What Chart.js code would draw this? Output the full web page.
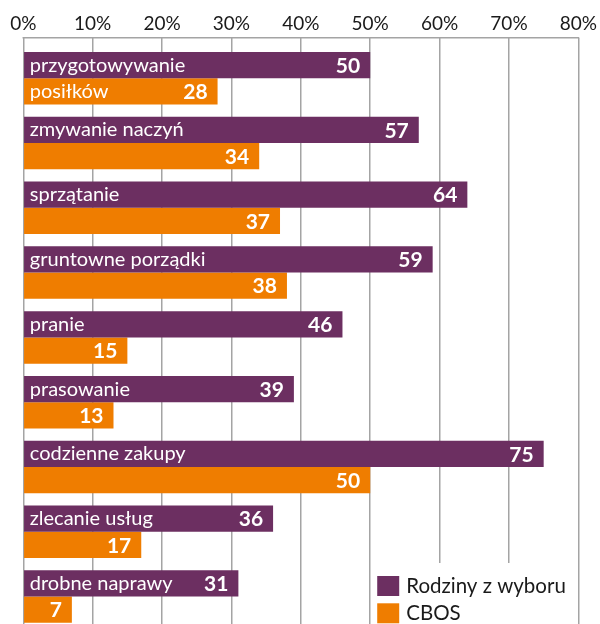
<!DOCTYPE html>
<html>
<head>
<meta charset="utf-8">
<script src="https://cdn.jsdelivr.net/npm/chart.js@4.4.1/dist/chart.umd.min.js"></script>
<style>
html,body{margin:0;padding:0;background:#fff;overflow:hidden;width:600px;height:624px;}
canvas{display:block;}
</style>
</head>
<body>
<canvas id="c" width="600" height="629"></canvas>
<script>
const categories = [
  ["przygotowywanie", "posiłków"],
  ["zmywanie naczyń"],
  ["sprzątanie"],
  ["gruntowne porządki"],
  ["pranie"],
  ["prasowanie"],
  ["codzienne zakupy"],
  ["zlecanie usług"],
  ["drobne naprawy"]
];
const seriesNames = ["Rodziny z wyboru", "CBOS"];
const rodzinyValues = [50, 57, 64, 59, 46, 39, 75, 36, 31];
const cbosValues = [28, 34, 37, 38, 15, 13, 50, 17, 7];
const tickValues = [0, 10, 20, 30, 40, 50, 60, 70, 80];

const PURPLE = '#6c2f61';
const ORANGE = '#ef7d00';
const GRID = '#a4a4a4';
const TEXT = '#1a1a1a';
const FONT = 'Lato, "Open Sans", sans-serif';
const TICK_LEN = 8;

const topLine = {
  id: 'topLine',
  beforeDatasetsDraw(chart) {
    const {ctx, chartArea} = chart;
    ctx.save();
    ctx.strokeStyle = GRID;
    ctx.lineWidth = 1.5;
    ctx.beginPath();
    ctx.moveTo(chartArea.left - 0.75, chartArea.top - TICK_LEN);
    ctx.lineTo(chartArea.right + 0.75, chartArea.top - TICK_LEN);
    ctx.stroke();
    ctx.restore();
  }
};

const barText = {
  id: 'barText',
  afterDatasetsDraw(chart) {
    const {ctx, chartArea} = chart;
    ctx.save();
    ctx.fillStyle = '#ffffff';
    ctx.textBaseline = 'middle';
    chart.data.datasets.forEach((ds, di) => {
      const meta = chart.getDatasetMeta(di);
      meta.data.forEach((el, i) => {
        ctx.font = 'bold 21px ' + FONT;
        ctx.textAlign = 'right';
        ctx.fillText(String(ds.data[i]), el.x - 10, el.y + 1);
        const line = categories[i][di];
        if (line) {
          ctx.font = '20px ' + FONT;
          ctx.textAlign = 'left';
          ctx.fillText(line, chartArea.left + 6.5, el.y);
        }
      });
    });
    ctx.restore();
  }
};

const boxLegend = {
  id: 'boxLegend',
  afterDraw(chart) {
    const {ctx, chartArea} = chart;
    const xs = chart.scales.x;
    const x50 = xs.getPixelForValue(50);
    const x80 = xs.getPixelForValue(80);
    ctx.save();
    ctx.fillStyle = '#ffffff';
    ctx.fillRect(x50 + 1, chartArea.bottom - 66, x80 - x50 - 2, 66);
    const colors = chart.data.datasets.map(d => d.backgroundColor);
    chart.data.datasets.forEach((ds, i) => {
      const top = chartArea.bottom - 53 + i * 27.3;
      ctx.fillStyle = colors[i];
      ctx.fillRect(x50 + 7, top, 22, 20);
      ctx.fillStyle = TEXT;
      ctx.font = '20.5px ' + FONT;
      ctx.textAlign = 'left';
      ctx.textBaseline = 'middle';
      ctx.fillText(ds.label, x50 + 36, top + 10.5);
    });
    ctx.restore();
  }
};

new Chart(document.getElementById('c'), {
  type: 'bar',
  data: {
    labels: categories,
    datasets: [
      {label: seriesNames[0], data: rodzinyValues, backgroundColor: PURPLE, borderWidth: 0},
      {label: seriesNames[1], data: cbosValues, backgroundColor: ORANGE, borderWidth: 0}
    ]
  },
  options: {
    indexAxis: 'y',
    responsive: false,
    animation: false,
    events: [],
    categoryPercentage: 0.81,
    barPercentage: 1.0,
    layout: {padding: {top: 9, left: 23.3, right: 21.5, bottom: 0}},
    plugins: {legend: {display: false}, tooltip: {enabled: false}},
    scales: {
      x: {
        position: 'top',
        min: 0, max: 80,
        afterBuildTicks: (s) => { s.ticks = tickValues.map(v => ({value: v})); },
        ticks: {
          callback: (v) => v + '%',
          color: TEXT,
          font: {family: FONT, size: 19},
          padding: 3,
          maxRotation: 0
        },
        grid: {color: GRID, lineWidth: 1.5, tickLength: TICK_LEN, drawTicks: true},
        border: {display: false}
      },
      y: {
        display: false,
        offset: true,
        grid: {display: false}
      }
    }
  },
  plugins: [topLine, barText, boxLegend]
});
</script>
</body>
</html>
